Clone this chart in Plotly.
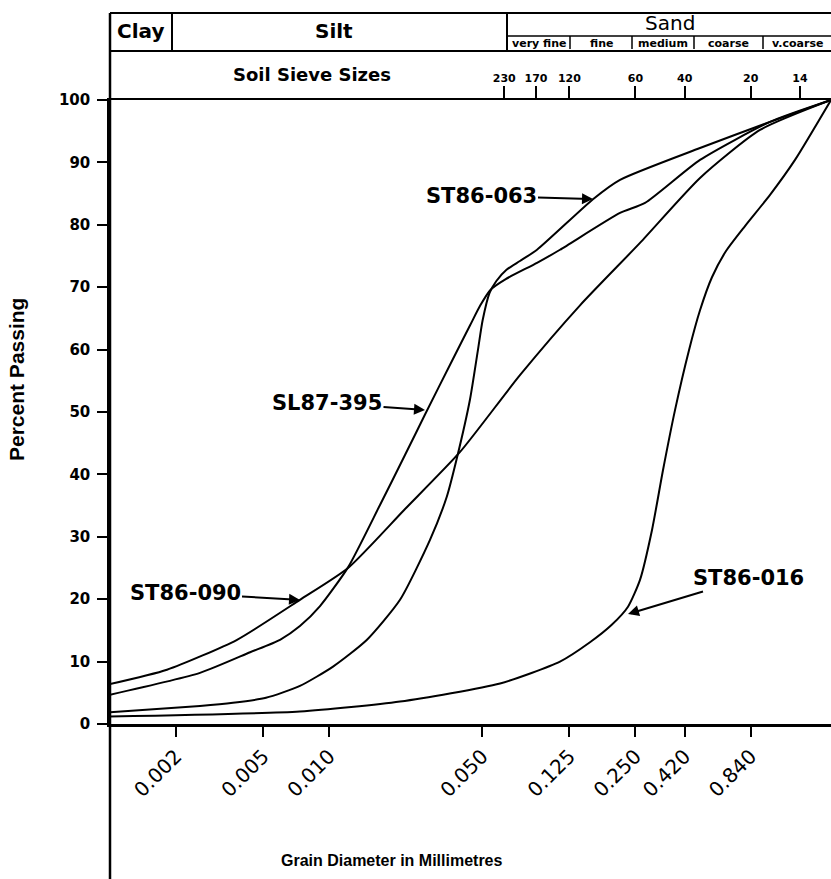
import plotly.graph_objects as go

W, H = 831, 879
PL, PR, PT, PB = 110, 831, 100, 724   # plot-area pixel edges (left, right, 100 %, 0 %)
XMIN_LOG, XMAX_LOG = -3.0, 0.2907

# ---------------- data ----------------
st86_090_d = [0.001, 0.00182, 0.0038, 0.00736, 0.0122, 0.022, 0.0396, 0.0743, 0.1397, 0.2624, 0.493, 0.926, 1.953]
st86_090_p = [6.4, 8.7, 13.5, 19.9, 25.0, 34.3, 43.6, 55.9, 67.1, 77.1, 87.5, 95.2, 100]

sl87_395_d = [0.001, 0.002575, 0.00436, 0.00597, 0.00736, 0.00909, 0.0122, 0.01707, 0.0222, 0.0274, 0.03675, 0.0440, 0.0490, 0.0546, 0.0640, 0.0889, 0.1132, 0.2127, 0.2766, 0.493, 1.029, 1.953]
sl87_395_p = [4.7, 8.2, 11.5, 13.5, 15.7, 18.9, 25.1, 35.1, 43.1, 49.6, 58.5, 63.9, 67.1, 69.6, 71.3, 73.9, 76.0, 81.9, 83.5, 90.4, 96.5, 100]

st86_063_d = [0.001, 0.002575, 0.00364, 0.00515, 0.00736, 0.01042, 0.01489, 0.02107, 0.02887, 0.0345, 0.03836, 0.04395, 0.04781, 0.0502, 0.0540, 0.0580, 0.0645, 0.0743, 0.0889, 0.1601, 0.2127, 0.493, 1.029, 1.953]
st86_063_p = [1.9, 2.9, 3.4, 4.2, 6.1, 9.2, 13.5, 19.9, 29.5, 36.5, 42.7, 52.0, 60.0, 64.7, 69.1, 71.0, 72.8, 74.2, 76.0, 84.1, 87.2, 92.3, 96.5, 100]

st86_016_d = [0.001, 0.00736, 0.02107, 0.0603, 0.1132, 0.1551, 0.1950, 0.2313, 0.2624, 0.2977, 0.3342, 0.3791, 0.4391, 0.493, 0.559, 0.648, 0.791, 1.029, 1.338, 1.953]
st86_016_p = [1.2, 2.0, 3.6, 6.5, 10.0, 13.1, 15.9, 18.8, 23.1, 31.1, 40.7, 50.3, 59.9, 66.3, 71.6, 75.8, 79.8, 84.8, 90.4, 100]

tick_mm = [0.002, 0.005, 0.010, 0.050, 0.125, 0.250, 0.420, 0.840]
tick_text = ["0.002", "0.005", "0.010", "0.050", "0.125", "0.250", "0.420", "0.840"]

sieve_mm = [0.063, 0.088, 0.125, 0.25, 0.42, 0.84, 1.41]
sieve_no = ["230", "170", "120", "60", "40", "20", "14"]

y_ticks = [0, 10, 20, 30, 40, 50, 60, 70, 80, 90, 100]

series = [
    ("ST86-090", st86_090_d, st86_090_p),
    ("SL87-395", sl87_395_d, sl87_395_p),
    ("ST86-063", st86_063_d, st86_063_p),
    ("ST86-016", st86_016_d, st86_016_p),
]

# ---------------- helpers (layout only) ----------------
def px(x):
    return (x - PL) / (PR - PL)

def py(y):
    return (PB - y) / (PB - PT)

BOLD = "DejaVu Sans"
TITLE = "Liberation Sans"

fig = go.Figure()
for name, d, p in series:
    fig.add_trace(go.Scatter(x=d, y=p, mode="lines", name=name,
                             line=dict(color="black", width=2, shape="spline", smoothing=0.6),
                             hoverinfo="skip", showlegend=False))

# invisible trace to carry the sieve-size axis
fig.add_trace(go.Scatter(x=sieve_mm, y=[100] * len(sieve_mm), xaxis="x2", mode="markers",
                         marker=dict(opacity=0), hoverinfo="skip", showlegend=False))

shapes = []
def line(x0, y0, x1, y1, w=2):
    shapes.append(dict(type="line", xref="paper", yref="paper",
                       x0=px(x0), y0=py(y0), x1=px(x1), y1=py(y1),
                       line=dict(color="black", width=w)))

# frame / header
line(PL, 13, W + 2, 13)
line(PL, 51, W + 2, 51)
line(PL, 13, PL, H + 2, 2.5)
line(172, 13, 172, 51)
line(507, 13, 507, 51)
line(507, 36, W + 2, 36, 1.5)
for xs in [570, 632, 694, 763]:
    line(xs, 36, xs, 49, 1.5)

annots = []
def text(x, y, s, size, bold=True, family=BOLD, xanchor="center", angle=0):
    annots.append(dict(xref="paper", yref="paper", x=px(x), y=py(y), text=s, showarrow=False,
                       xanchor=xanchor, yanchor="middle", textangle=angle,
                       font=dict(family=family, size=size, color="black",
                                 weight="bold" if bold else "normal")))

text(140, 31, "Clay", 20)
text(334, 31, "Silt", 20)
text(670, 23, "Sand", 20, bold=False)
for cx, s in [(539, "very fine"), (601, "fine"), (663, "medium"), (728, "coarse"), (797, "v.coarse")]:
    text(cx, 43, s, 11)
text(312, 75, "Soil Sieve Sizes", 18)
text(392, 860, "Grain Diameter in Millimetres", 16, family=TITLE)
text(16, 380, "Percent Passing", 21, family=TITLE, angle=-90)

def arrow(tipx, tipy, tx, ty, s):
    annots.append(dict(xref="paper", yref="paper", x=px(tipx), y=py(tipy),
                       ax=tx - tipx, ay=ty - tipy, axref="pixel", ayref="pixel",
                       text=s, showarrow=True, arrowhead=2, arrowsize=1.1, arrowwidth=2,
                       arrowcolor="black", standoff=0, startstandoff=0,
                       font=dict(family=BOLD, size=21, color="black", weight="bold")))

arrow(593, 199, 481, 196, "ST86-063")
arrow(425, 410, 327, 403, "SL87-395")
arrow(300, 600, 185, 593, "ST86-090")
arrow(628, 614, 748, 578, "ST86-016")

fig.update_layout(
    width=W, height=H,
    margin=dict(l=PL, r=W - PR, t=PT, b=H - PB, pad=0),
    paper_bgcolor="white", plot_bgcolor="white",
    shapes=shapes, annotations=annots,
    xaxis=dict(type="log", range=[XMIN_LOG, XMAX_LOG], tickvals=tick_mm, ticktext=tick_text,
               tickangle=-45, ticks="outside", ticklen=10, tickwidth=2, tickcolor="black",
               showline=True, linecolor="black", linewidth=2.5, showgrid=False, zeroline=False,
               tickfont=dict(family=BOLD, size=20, color="black"), fixedrange=True),
    xaxis2=dict(type="log", range=[XMIN_LOG, XMAX_LOG], overlaying="x", side="top", anchor="y",
                tickvals=sieve_mm, ticktext=sieve_no, ticks="outside", ticklen=12, tickwidth=2,
                tickcolor="black", showline=True, linecolor="black", linewidth=2,
                showgrid=False, zeroline=False,
                tickfont=dict(family=BOLD, size=11, color="black", weight="bold")),
    yaxis=dict(range=[0, 100], tickvals=y_ticks, ticks="outside", ticklen=10, tickwidth=2,
               tickcolor="black", showline=True, linecolor="black", linewidth=2.5,
               showgrid=False, zeroline=False, ticklabelstandoff=4,
               tickfont=dict(family=BOLD, size=15, color="black", weight="bold")),
)

fig.write_html("out.html", config={"displayModeBar": False},
               post_script="document.body.style.margin='0';"
                           "document.body.style.overflow='hidden';"
                           "document.documentElement.style.overflow='hidden';")
